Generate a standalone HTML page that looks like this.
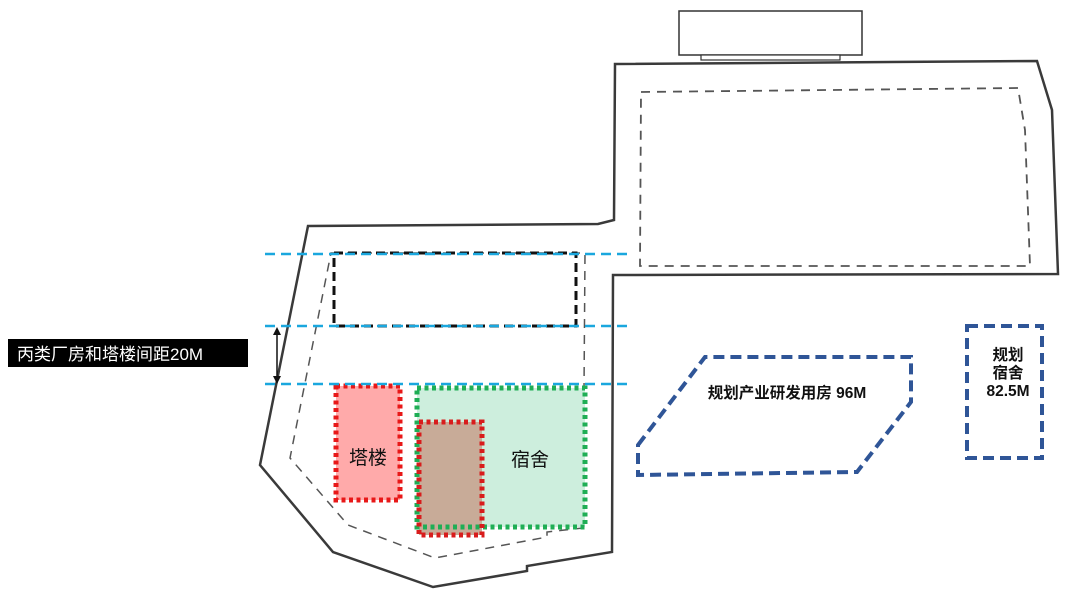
<!DOCTYPE html>
<html><head><meta charset="utf-8"><style>
html,body{margin:0;padding:0;background:#fff;}
svg{display:block;}
text{font-family:"Liberation Sans","Noto Sans CJK SC",sans-serif;}
</style></head><body>
<svg width="1080" height="598" viewBox="0 0 1080 598" xmlns="http://www.w3.org/2000/svg">
<rect x="679" y="11" width="183" height="44" fill="#fff" stroke="#333" stroke-width="1.5"/>
<rect x="701" y="55" width="139" height="5" fill="#fff" stroke="#333" stroke-width="1.2"/>
<polygon points="308,226 598,224 614,220 615,64 1037,61 1052,110 1058,274 613,275 612,552 527,566 527,571 433,587 333,552 260,465" fill="none" stroke="#3a3a3a" stroke-width="2.5" stroke-linejoin="miter"/>
<polygon points="641,92 1018,88 1025,130 1030,266 640,266" fill="none" stroke="#555" stroke-width="1.8" stroke-dasharray="9,7"/>
<polygon points="331,253 585,253 583,528 547,532 547,537 435,558 348,525 290,458" fill="none" stroke="#555" stroke-width="1.5" stroke-dasharray="9,7"/>
<rect x="336" y="386" width="64" height="114" fill="#ffaaaa"/>
<rect x="417" y="388" width="168" height="139" fill="#cdeedd"/>
<rect x="419" y="422" width="63" height="113" fill="#c8ab98"/>
<rect x="336" y="386" width="64" height="114" fill="none" stroke="#e81818" stroke-width="5" stroke-dasharray="4,3.5"/>
<rect x="417" y="388" width="168" height="139" fill="none" stroke="#1fae55" stroke-width="5" stroke-dasharray="4,3.5"/>
<rect x="419" y="422" width="63" height="113" fill="none" stroke="#d81c1c" stroke-width="5" stroke-dasharray="4,3.5"/>
<rect x="334" y="253" width="242" height="73" fill="none" stroke="#111" stroke-width="3" stroke-dasharray="9,5"/>
<g stroke="#1aa7de" stroke-width="2.5" stroke-dasharray="10,6">
<line x1="265" y1="254" x2="630" y2="254"/>
<line x1="265" y1="326" x2="630" y2="326"/>
<line x1="265" y1="384" x2="630" y2="384"/>
</g>
<line x1="277" y1="332" x2="277" y2="379" stroke="#111" stroke-width="1.5"/>
<polygon points="277,327 273,335 281,335" fill="#111"/>
<polygon points="277,384 273,376 281,376" fill="#111"/>
<rect x="8" y="339" width="240" height="28" fill="#000"/>
<text x="17" y="360" font-size="17" fill="#fff">丙类厂房和塔楼间距20M</text>
<text x="368" y="464" font-size="19" fill="#111" text-anchor="middle">塔楼</text>
<text x="530" y="466" font-size="19" fill="#111" text-anchor="middle">宿舍</text>
<polygon points="638,445 705,357 911,357 911,402 857,472 638,475" fill="none" stroke="#2f5597" stroke-width="4" stroke-dasharray="11,6"/>
<rect x="967" y="326" width="75" height="132" fill="none" stroke="#2f5597" stroke-width="4" stroke-dasharray="11,6"/>
<text x="787" y="398" font-size="15.5" font-weight="bold" fill="#111" text-anchor="middle">规划产业研发用房 96M</text>
<text x="1008" y="360" font-size="15.5" font-weight="bold" fill="#111" text-anchor="middle">规划</text>
<text x="1008" y="378" font-size="15.5" font-weight="bold" fill="#111" text-anchor="middle">宿舍</text>
<text x="1008" y="396" font-size="15.5" font-weight="bold" fill="#111" text-anchor="middle">82.5M</text>
</svg>
</body></html>
